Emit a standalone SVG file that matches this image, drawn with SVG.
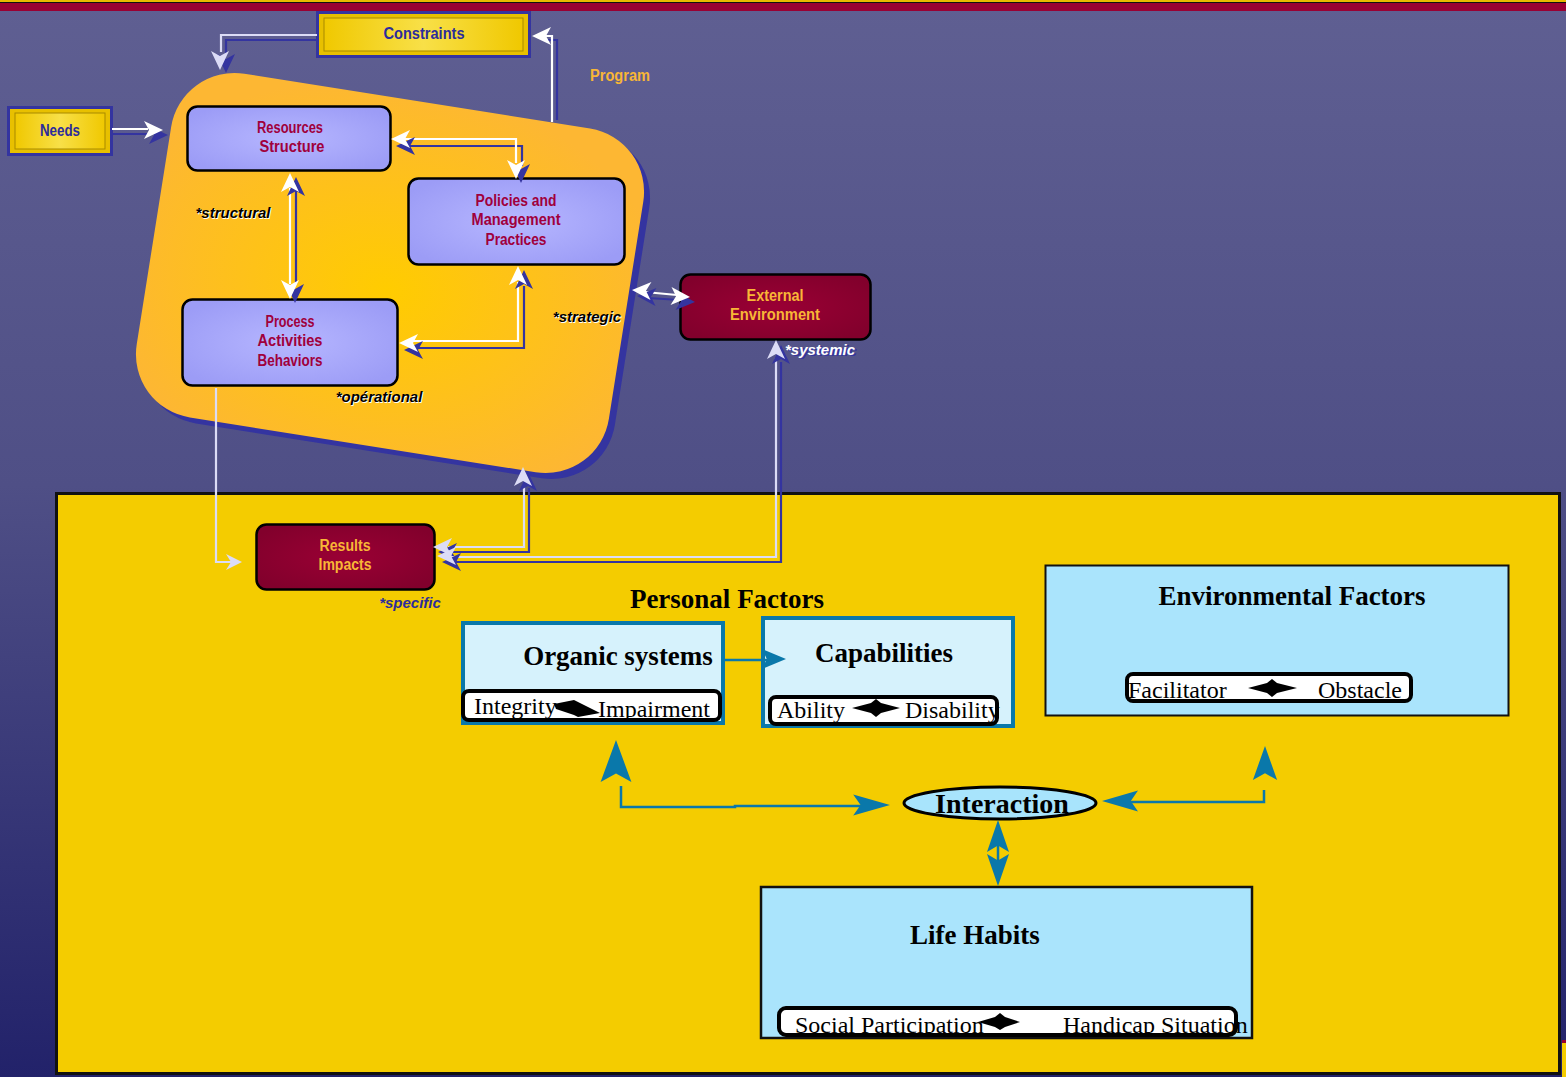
<svg xmlns="http://www.w3.org/2000/svg" xmlns:xlink="http://www.w3.org/1999/xlink" width="1566" height="1077" viewBox="0 0 1566 1077">
<style>
.sans{font-family:"Liberation Sans","DejaVu Sans",Arial,sans-serif;font-size:16px;font-weight:bold;text-anchor:middle}
.lav{fill:#a0003c}
.org{fill:#f8b636}
.dblue{fill:#2c2c9c}
.ital{font-family:"Liberation Sans","DejaVu Sans",Arial,sans-serif;font-size:15px;font-style:italic;font-weight:bold}
.serifb{font-family:"Liberation Serif","Times New Roman",serif;font-weight:bold;font-size:27px;text-anchor:middle;fill:#000}
.serif{font-family:"Liberation Serif","Times New Roman",serif;font-size:24px;fill:#000}
.wl{fill:none;stroke:#ffffff;stroke-width:2.2}
.ll{fill:none;stroke:#dcdcf6;stroke-width:2.2}
.sl{fill:none;stroke:#3434a0;stroke-width:2.2}
.wh{fill:#ffffff}
.lh{fill:#dcdcf6}
.sh{fill:#3434a0}
.bl{fill:none;stroke:#0a78aa;stroke-width:2.5}
.bh{fill:#0a78aa}
.lavnode{fill:url(#lavG);stroke:#000;stroke-width:2.5}
.crim{fill:url(#crimG);stroke:#000;stroke-width:2.5}
.pill{fill:#fff}
.pillS{fill:none;stroke:#000;stroke-width:4}
</style>
<defs>
<linearGradient id="bg" x1="0" y1="0" x2="0" y2="1">
<stop offset="0" stop-color="#5f5f92"/>
<stop offset="0.45" stop-color="#4f4f86"/>
<stop offset="1" stop-color="#22226a"/>
</linearGradient>
<radialGradient id="orG" cx="0.5" cy="0.55" r="0.6">
<stop offset="0" stop-color="#ffcc00"/>
<stop offset="1" stop-color="#fdb733"/>
</radialGradient>
<radialGradient id="lavG" cx="0.5" cy="0.5" r="0.6">
<stop offset="0" stop-color="#b6b6ff"/>
<stop offset="1" stop-color="#9c9cf6"/>
</radialGradient>
<radialGradient id="crimG" cx="0.5" cy="0.5" r="0.6">
<stop offset="0" stop-color="#9a0034"/>
<stop offset="1" stop-color="#82002c"/>
</radialGradient>
<linearGradient id="yelG" x1="0" y1="0" x2="1" y2="0">
<stop offset="0" stop-color="#f0c800"/>
<stop offset="0.5" stop-color="#f8e048"/>
<stop offset="1" stop-color="#f0c800"/>
</linearGradient>
<path id="hd" d="M0,0 L-19,-9 L-14,0 L-19,9 Z"/>
<path id="bhd" d="M0,0 L-40,-11 L-32,0 L-40,11 Z"/>
<path id="chev" d="M0,0 L-16,-8 L-11,0 L-16,8 Z"/>
<clipPath id="clipO"><rect x="400" y="680" width="400" height="39"/></clipPath>
<clipPath id="clipC"><rect x="700" y="690" width="400" height="33"/></clipPath>
<clipPath id="clipE"><rect x="1100" y="665" width="400" height="35"/></clipPath>
<clipPath id="clipL"><rect x="700" y="1000" width="600" height="34"/></clipPath>
</defs>

<rect x="0" y="0" width="1566" height="1077" fill="url(#bg)"/>
<rect x="0" y="0" width="1566" height="2" fill="#e8b800"/>
<rect x="0" y="2" width="1566" height="1" fill="#111"/>
<rect x="0" y="3" width="1566" height="8" fill="#990033"/>

<g id="personal-area">
<rect x="56.5" y="493.5" width="1503" height="580" fill="#f4cc00" stroke="#111" stroke-width="3"/>
<rect x="1562" y="1040" width="4" height="3" fill="#990033"/>
<rect x="1562" y="1043" width="4" height="34" fill="#f4cc00"/>
</g>

<g id="program">
<rect x="157" y="105" width="478" height="348" rx="64" transform="rotate(9 396 279)" fill="#3434a0"/>
<rect x="151" y="99" width="478" height="348" rx="64" transform="rotate(9 390 273)" fill="url(#orG)"/>
<text x="620" y="81" class="sans org" textLength="60" lengthAdjust="spacingAndGlyphs">Program</text>
</g>

<g id="constraints">
<rect x="317.5" y="12.5" width="212" height="44" fill="#e8c000" stroke="#3434a0" stroke-width="3"/>
<rect x="324" y="18" width="199" height="33" fill="url(#yelG)" stroke="#a88a00" stroke-width="1"/>
<text x="424" y="39" class="sans dblue" textLength="81" lengthAdjust="spacingAndGlyphs">Constraints</text>
</g>

<g id="needs">
<rect x="8.5" y="107.5" width="103" height="47" fill="#e8c000" stroke="#3434a0" stroke-width="3"/>
<rect x="15" y="113" width="90" height="36" fill="url(#yelG)" stroke="#a88a00" stroke-width="1"/>
<text x="60" y="136" class="sans dblue" textLength="40" lengthAdjust="spacingAndGlyphs">Needs</text>
</g>

<g id="resources">
<rect x="187.5" y="106.5" width="203" height="64" rx="10" class="lavnode"/>
<text x="290" y="133" class="sans lav" textLength="66" lengthAdjust="spacingAndGlyphs">Resources</text>
<text x="292" y="152" class="sans lav" textLength="65" lengthAdjust="spacingAndGlyphs">Structure</text>
</g>

<g id="policies">
<rect x="408.5" y="178.5" width="216" height="86" rx="10" class="lavnode"/>
<text x="516" y="206" class="sans lav" textLength="81" lengthAdjust="spacingAndGlyphs">Policies and</text>
<text x="516" y="225" class="sans lav" textLength="89" lengthAdjust="spacingAndGlyphs">Management</text>
<text x="516" y="245" class="sans lav" textLength="61" lengthAdjust="spacingAndGlyphs">Practices</text>
</g>

<g id="process">
<rect x="182.5" y="299.5" width="215" height="86" rx="10" class="lavnode"/>
<text x="290" y="327" class="sans lav" textLength="49" lengthAdjust="spacingAndGlyphs">Process</text>
<text x="290" y="346" class="sans lav" textLength="65" lengthAdjust="spacingAndGlyphs">Activities</text>
<text x="290" y="366" class="sans lav" textLength="65" lengthAdjust="spacingAndGlyphs">Behaviors</text>
</g>

<g id="external">
<rect x="680.5" y="274.5" width="190" height="65" rx="10" class="crim"/>
<text x="775" y="301" class="sans org" textLength="57" lengthAdjust="spacingAndGlyphs">External</text>
<text x="775" y="320" class="sans org" textLength="90" lengthAdjust="spacingAndGlyphs">Environment</text>
</g>

<g id="results">
<rect x="256.5" y="524.5" width="178" height="65" rx="10" class="crim"/>
<text x="345" y="551" class="sans org" textLength="51" lengthAdjust="spacingAndGlyphs">Results</text>
<text x="345" y="570" class="sans org" textLength="53" lengthAdjust="spacingAndGlyphs">Impacts</text>
</g>

<g id="labels">
<text x="234" y="219" class="ital" text-anchor="middle" fill="#fff">*structural</text>
<text x="233" y="218" class="ital" text-anchor="middle" fill="#000">*structural</text>
<text x="588" y="323" class="ital" text-anchor="middle" fill="#fff">*strategic</text>
<text x="587" y="322" class="ital" text-anchor="middle" fill="#000">*strategic</text>
<text x="380" y="403" class="ital" text-anchor="middle" fill="#fff">*opérational</text>
<text x="379" y="402" class="ital" text-anchor="middle" fill="#000">*opérational</text>
<text x="822" y="356" class="ital" text-anchor="middle" fill="#3434a0">*systemic</text>
<text x="820" y="355" class="ital" text-anchor="middle" fill="#fff">*systemic</text>
<text x="410" y="608" class="ital" text-anchor="middle" fill="#2c2c9c">*specific</text>
</g>

<g id="personal-factors">
<text x="727" y="608" class="serifb">Personal Factors</text>
</g>

<g id="organic">
<rect x="463" y="623" width="260" height="100" fill="#d6f2fc" stroke="#0a78aa" stroke-width="4"/>
<text x="618" y="665" class="serifb">Organic systems</text>
<rect x="463" y="691" width="257" height="29" rx="6" class="pill"/>
<g clip-path="url(#clipO)">
<text x="474" y="714" class="serif">Integrity</text>
<text x="598" y="717" class="serif">Impairment</text>
</g>
<polygon points="554,704 574,700 578,702 600,713 578,717 574,715 556,709" fill="#000"/>
<rect x="463" y="691" width="257" height="29" rx="6" class="pillS"/>
</g>

<g id="capabilities">
<rect x="763" y="618" width="250" height="108" fill="#d6f2fc" stroke="#0a78aa" stroke-width="4"/>
<text x="884" y="662" class="serifb">Capabilities</text>
<rect x="770" y="697" width="227" height="27" rx="6" class="pill"/>
<g clip-path="url(#clipC)">
<text x="777" y="718" class="serif">Ability</text>
<text x="905" y="718" class="serif">Disability</text>
</g>
<polygon points="852,708 871,703 876,699 881,703 900,708 881,713 876,717 871,713" fill="#000"/>
<rect x="770" y="697" width="227" height="27" rx="6" class="pillS"/>
</g>

<g id="environmental">
<rect x="1045.5" y="565.5" width="463" height="150" fill="#aae4fc" stroke="#111" stroke-width="2"/>
<text x="1292" y="605" class="serifb">Environmental Factors</text>
<rect x="1127" y="674" width="284" height="27" rx="6" class="pill"/>
<g clip-path="url(#clipE)">
<text x="1128" y="698" class="serif">Facilitator</text>
<text x="1318" y="698" class="serif">Obstacle</text>
</g>
<polygon points="1248,688 1267,683 1272,679 1277,683 1297,688 1277,693 1272,697 1267,693" fill="#000"/>
<rect x="1127" y="674" width="284" height="27" rx="6" class="pillS"/>
</g>

<g id="interaction">
<ellipse cx="1000" cy="803" rx="96" ry="16" fill="#a8e4fc" stroke="#000" stroke-width="3"/>
<text x="1002" y="813" class="serifb" font-size="28" style="font-size:28px">Interaction</text>
</g>

<g id="life-habits">
<rect x="761" y="887" width="491" height="151" fill="#aae4fc" stroke="#111" stroke-width="2.5"/>
<text x="975" y="944" class="serifb">Life Habits</text>
<rect x="779" y="1008" width="457" height="27" rx="7" class="pill"/>
<g clip-path="url(#clipL)">
<text x="795" y="1033" class="serif">Social Participation</text>
<text x="1063" y="1033" class="serif">Handicap Situation</text>
</g>
<polygon points="978,1022 995,1017 1000,1013 1005,1017 1020,1022 1005,1027 1000,1030 995,1027" fill="#000"/>
<rect x="779" y="1008" width="457" height="27" rx="7" class="pillS"/>
</g>

<g id="connectors">
<!-- Constraints -> program -->
<polyline class="sl" points="317,40 226,40 226,56"/>
<polyline class="ll" points="317,35 221,35 221,52"/>
<use href="#hd" class="sh" transform="translate(226,73) rotate(90)"/>
<use href="#hd" class="lh" transform="translate(220,70) rotate(90)"/>
<!-- Program -> constraints -->
<polyline class="sl" points="557,120 557,40 548,40"/>
<polyline class="wl" points="552,122 552,36 545,36"/>
<use href="#hd" class="wh" transform="translate(532,36) rotate(180)"/>
<!-- Needs -> Resources -->
<line class="sl" x1="112" y1="134" x2="150" y2="134"/>
<line class="wl" x1="112" y1="129" x2="148" y2="129"/>
<use href="#hd" class="sh" transform="translate(168,135)"/>
<use href="#hd" class="wh" transform="translate(163,130)"/>
<!-- Resources <-> Policies -->
<polyline class="sl" points="408,146 522,146 522,166"/>
<polyline class="wl" points="405,139 516,139 516,163"/>
<use href="#hd" class="sh" transform="translate(396,146) rotate(180)"/>
<use href="#hd" class="wh" transform="translate(391,139) rotate(180)"/>
<use href="#hd" class="sh" transform="translate(521,183) rotate(90)"/>
<use href="#hd" class="wh" transform="translate(516,179) rotate(90)"/>
<!-- Resources <-> Process -->
<line class="sl" x1="296" y1="190" x2="296" y2="284"/>
<line class="wl" x1="290" y1="188" x2="290" y2="284"/>
<use href="#hd" class="sh" transform="translate(296,177) rotate(-90)"/>
<use href="#hd" class="wh" transform="translate(290,173) rotate(-90)"/>
<use href="#hd" class="sh" transform="translate(295,303) rotate(90)"/>
<use href="#hd" class="wh" transform="translate(290,299) rotate(90)"/>
<!-- Policies <-> Process -->
<polyline class="sl" points="524,286 524,348 412,348"/>
<polyline class="wl" points="518,282 518,341 412,341"/>
<use href="#hd" class="sh" transform="translate(524,270) rotate(-90)"/>
<use href="#hd" class="wh" transform="translate(518,266) rotate(-90)"/>
<use href="#hd" class="sh" transform="translate(404,350) rotate(180)"/>
<use href="#hd" class="wh" transform="translate(399,343) rotate(180)"/>
<!-- Program <-> External -->
<line class="sl" x1="648" y1="298" x2="680" y2="300"/>
<line class="wl" x1="645" y1="292" x2="677" y2="295"/>
<use href="#hd" class="sh" transform="translate(637,296) rotate(183)"/>
<use href="#hd" class="wh" transform="translate(632,290) rotate(183)"/>
<use href="#hd" class="sh" transform="translate(695,302) rotate(3)"/>
<use href="#hd" class="wh" transform="translate(690,297) rotate(3)"/>
<!-- Process -> Results -->
<polyline class="ll" points="216,388 216,562 232,562"/>
<use href="#chev" class="lh" transform="translate(242,562)"/>
<!-- Results <-> program -->
<polyline class="sl" points="529,488 529,552 452,552"/>
<polyline class="ll" points="524,484 524,547 448,547"/>
<use href="#hd" class="sh" transform="translate(528,472) rotate(-90)"/>
<use href="#hd" class="lh" transform="translate(523,467) rotate(-90)"/>
<use href="#hd" class="sh" transform="translate(438,552) rotate(180)"/>
<use href="#hd" class="lh" transform="translate(433,547) rotate(180)"/>
<!-- Results <-> External -->
<polyline class="sl" points="781,362 781,562 452,562"/>
<polyline class="ll" points="776,358 776,557 450,557"/>
<use href="#hd" class="sh" transform="translate(781,345) rotate(-90)"/>
<use href="#hd" class="lh" transform="translate(776,340) rotate(-90)"/>
<use href="#hd" class="sh" transform="translate(442,562) rotate(180)"/>
<use href="#hd" class="lh" transform="translate(437,556) rotate(180)"/>
<!-- Organic -> Capabilities -->
<line class="bl" x1="725" y1="660" x2="772" y2="660"/>
<use href="#bhd" class="bh" transform="translate(786,659) scale(0.6 0.9)"/>
<!-- Organic/Capabilities <-> Interaction -->
<polyline class="bl" points="621,786 621,807 735,807 735,806 870,806"/>
<use href="#bhd" class="bh" transform="translate(616,740) rotate(-90) scale(1.05 1.4)"/>
<use href="#bhd" class="bh" transform="translate(890,805) scale(0.92 0.95)"/>
<!-- Environment <-> Interaction -->
<polyline class="bl" points="1264,790 1264,802 1120,802"/>
<use href="#bhd" class="bh" transform="translate(1265,746) rotate(-90) scale(0.85 1.1)"/>
<use href="#bhd" class="bh" transform="translate(1102,801) rotate(180) scale(0.9 0.95)"/>
<!-- Interaction <-> Life Habits -->
<line class="bl" x1="998" y1="840" x2="998" y2="866"/>
<use href="#bhd" class="bh" transform="translate(998,820) rotate(-90) scale(0.8 1)"/>
<use href="#bhd" class="bh" transform="translate(998,886) rotate(90) scale(0.8 1)"/>
</g>
</svg>
